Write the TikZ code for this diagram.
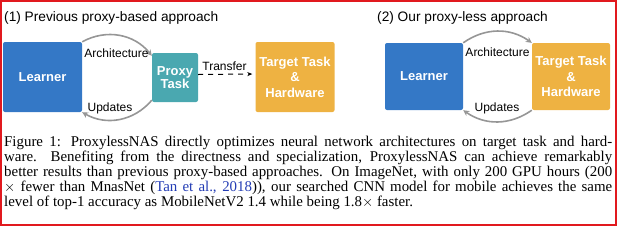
\documentclass[tikz,border=0pt]{standalone}
\usepackage{fontspec}
\setmainfont{Liberation Serif}
\setsansfont{Liberation Sans}
\usetikzlibrary{arrows.meta}
\definecolor{learnerblue}{RGB}{52,120,198}
\definecolor{proxyteal}{RGB}{74,168,176}
\definecolor{targetorange}{RGB}{238,178,66}
\definecolor{arcgray}{RGB}{150,150,150}
\definecolor{citeblue}{RGB}{35,60,180}
\definecolor{frame}{RGB}{225,25,30}
\begin{document}
\begin{tikzpicture}[x=1pt,y=1pt,
  box/.style={fill=#1, draw=none, rounded corners=2pt, text=white, align=center,
    font=\sffamily\bfseries\fontsize{13}{15.5}\selectfont, inner sep=0pt},
  loop/.style={draw=arcgray, line width=1.6pt, -{Stealth[length=6pt,width=6pt]}},
  lbl/.style={font=\sffamily\fontsize{12}{14}\selectfont, inner sep=0pt},
  title/.style={font=\sffamily\fontsize{13.7}{16}\selectfont, anchor=west, inner sep=0pt}]
\useasboundingbox (0,0) rectangle (617,226);
\draw[frame, line width=2pt] (1,1) rectangle (616,225);
% (1) previous proxy-based approach
\node[title] (titleA) at (4,208) {(1) Previous proxy-based approach};
\node[box=learnerblue, minimum width=79pt, minimum height=70pt] (learnerA) at (42.5,149) {Learner};
\node[box=proxyteal, minimum width=46pt, minimum height=49pt,
  font=\sffamily\bfseries\fontsize{13}{12.5}\selectfont] (proxy) at (175,148.5) {Proxy\\Task};
\node[box=targetorange, minimum width=79pt, minimum height=70pt] (targetA) at (295,149) {Target Task\\\&\\Hardware};
\draw[loop] (learnerA.north east) to[bend left=40] ([yshift=-3pt]proxy.north west);
\draw[loop] ([yshift=2pt]proxy.south west) to[bend left=40] (learnerA.south east);
\node[lbl] (archA) at (116.5,173) {Architecture};
\node[lbl] (updA) at (110,118) {Updates};
\draw[line width=1pt, dash pattern=on 5pt off 5pt, -{Stealth[length=5pt,width=4pt]}, shorten >=3pt]
  ([yshift=3pt]proxy.east) -- ([yshift=3pt]targetA.west);
\node[lbl] (transfer) at (224.5,159.5) {Transfer};
% (2) our proxy-less approach
\node[title] (titleB) at (377,208) {(2) Our proxy-less approach};
\node[box=learnerblue, minimum width=78pt, minimum height=67pt] (learnerB) at (424,149.5) {Learner};
\node[box=targetorange, minimum width=78pt, minimum height=67pt] (targetB) at (571,149.5) {Target Task\\\&\\Hardware};
\draw[loop] (learnerB.north east) to[bend left=35] (targetB.north west);
\draw[loop] (targetB.south west) to[bend left=35] (learnerB.south east);
\node[lbl] (archB) at (497.5,174) {Architecture};
\node[lbl] (updB) at (497,118) {Updates};
% caption
\node[anchor=base west, inner sep=0pt] (caption) at (4,79.5) {\parbox[t]{608pt}{\fontsize{14.9}{15}\selectfont
Figure 1: ProxylessNAS directly optimizes neural network architectures on target task and hard-\linebreak
ware.\ \ Benefiting from the directness and specialization, ProxylessNAS can achieve remarkably\linebreak
better results than previous proxy-based approaches. On ImageNet, with only 200 GPU hours (200\linebreak
$\times$ fewer than MnasNet ({\color{citeblue}Tan et al., 2018}){)}, our searched CNN model for mobile achieves the same\linebreak
level of top-1 accuracy as MobileNetV2 1.4 while being 1.8$\times$ faster.}};
\end{tikzpicture}
\end{document}
